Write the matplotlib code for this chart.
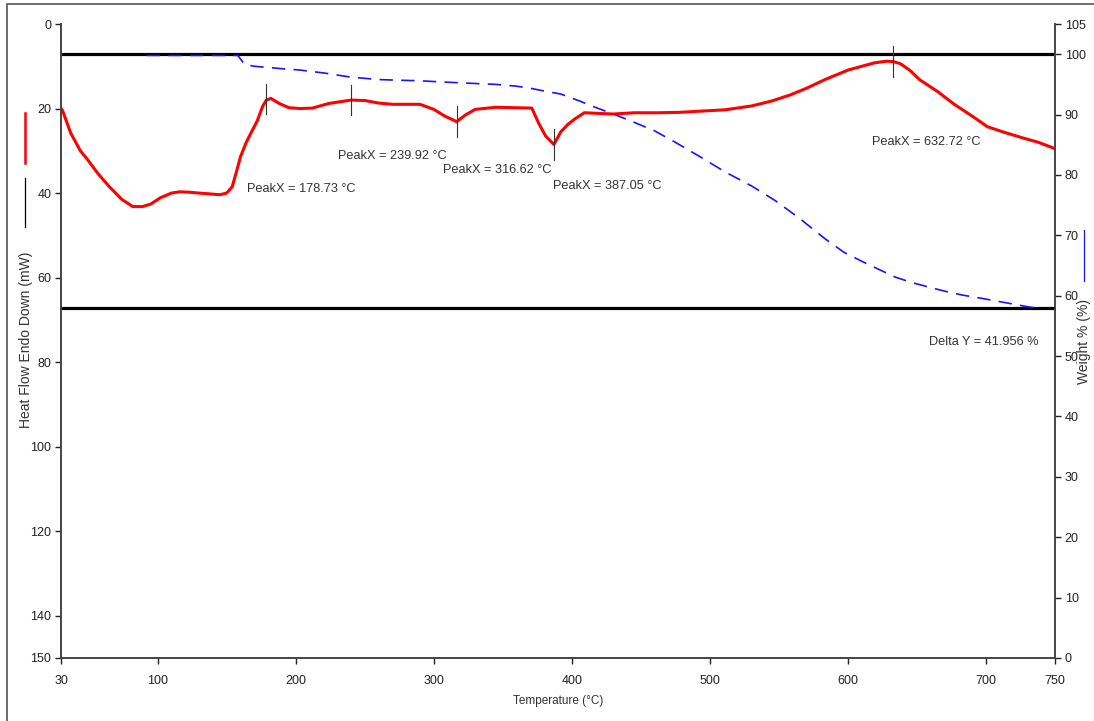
import matplotlib
matplotlib.use('Agg')
import matplotlib.pyplot as plt
from matplotlib.lines import Line2D
from matplotlib.patches import Rectangle

plt.rcParams['font.family'] = ['Liberation Sans', 'DejaVu Sans']

# heat flow (mW), left axis
temp_hf = [30, 31, 37, 44, 49, 57, 65, 74, 82, 89, 95, 102, 110, 116, 123, 130,
           138, 145, 150, 154, 157, 160, 164, 168, 172, 176, 178.7, 182, 188, 195,
           203, 212, 224, 240, 250, 260, 270, 290, 300, 308, 316.6, 323, 330, 345,
           371, 376, 381, 387, 392, 397, 402, 409, 430, 445, 462, 478, 494, 511,
           530, 545, 558, 570, 583, 600, 619, 628, 633, 638, 645, 652, 665, 677,
           690, 701, 712, 725, 738, 750]
heat_flow = [20, 20.4, 25.8, 30, 32, 35.5, 38.5, 41.5, 43.2, 43.2, 42.6, 41.1, 40.0,
             39.7, 39.8, 40, 40.2, 40.4, 40, 38.5, 35, 31.4, 28.1, 25.5, 23, 19.5,
             18, 17.6, 18.8, 19.8, 20, 19.9, 18.8, 18.0, 18.1, 18.7, 19.0, 19.0,
             20.2, 21.8, 23.1, 21.5, 20.2, 19.7, 19.9, 23.5, 26.5, 28.5, 25.5, 23.8,
             22.5, 21, 21.3, 21.0, 21.0, 20.9, 20.6, 20.3, 19.4, 18.2, 16.8, 15.2,
             13.2, 10.9, 9.2, 8.8, 8.9, 9.4, 11.0, 13.2, 16.0, 19.0, 21.8, 24.3,
             25.5, 26.8, 28.0, 29.5]

# weight (%), right axis
temp_w = [92, 158, 160, 163, 170, 180, 190, 202, 220, 240, 260, 273, 290, 306, 325,
          345, 360, 369, 380, 392, 405, 417, 431, 441, 460, 475, 493, 511, 530, 547,
          565, 583, 597, 610, 622, 634, 646, 659, 671, 683, 696, 708, 720, 732, 736]
weight = [99.8, 99.8, 99.2, 98.3, 98.0, 97.8, 97.6, 97.4, 96.9, 96.2, 95.8, 95.7,
          95.6, 95.4, 95.2, 95.0, 94.7, 94.4, 93.9, 93.4, 92.3, 91.2, 90.0, 89.1,
          87.3, 85.4, 83.0, 80.5, 78.2, 75.8, 72.8, 69.5, 67.2, 65.7, 64.4, 63.1,
          62.2, 61.4, 60.7, 60.1, 59.6, 59.1, 58.6, 58.1, 58.0]

peak_x = [178.73, 239.92, 316.62, 387.05, 632.72]
peak_y = [17.7, 18.0, 23.1, 28.5, 8.9]
peak_label_pos = [(165, 39), (230.5, 31.2), (307, 34.5), (386.5, 38.3), (617.5, 28)]

weight_start = 100.0
delta_y = 41.956

x_ticks = [30, 100, 200, 300, 400, 500, 600, 700, 750]
hf_ticks = [0, 20, 40, 60, 80, 100, 120, 140, 150]
w_ticks = [0, 10, 20, 30, 40, 50, 60, 70, 80, 90, 100, 105]

fig = plt.figure(figsize=(10.94, 7.21), dpi=100)
ax = fig.add_axes([0.0558, 0.0874, 0.9086, 0.8793])
ax2 = ax.twinx()

ax.set_xlim(30, 750)
ax.set_ylim(150, 0)
ax2.set_ylim(0, 105)

ax2.axhline(weight_start, color='black', lw=2.3, zorder=1)
ax2.axhline(weight_start - delta_y, color='black', lw=2.3, zorder=1)
ax2.plot(temp_w, weight, color='#1515ff', lw=1.2, dashes=(8, 5), zorder=3)

ax.plot(temp_hf, heat_flow, color='#ff0000', lw=2.2, zorder=2)
for px, py in zip(peak_x, peak_y):
    ax.plot([px, px], [py - 3.6, py + 3.6], color='#333333', lw=0.8)
for px, (lx, ly) in zip(peak_x, peak_label_pos):
    ax.text(lx, ly, 'PeakX = %.2f °C' % px, fontsize=9.2, color='#333333',
            va='center', ha='left')
ax.text(659, 75.2, 'Delta Y = %.3f %%' % delta_y, fontsize=9.2, color='#333333',
        va='center', ha='left')

ax.set_zorder(ax2.get_zorder() + 1)
ax.patch.set_visible(False)

ax.set_xticks(x_ticks)
ax.set_yticks(hf_ticks)
ax2.set_yticks(w_ticks)
for a in (ax, ax2):
    a.spines['top'].set_visible(False)
    for s in ('left', 'right', 'bottom'):
        a.spines[s].set_color('#444444')
        a.spines[s].set_linewidth(1.2)
    a.tick_params(labelsize=9, colors='#222222', length=4, width=1, pad=3)
ax.tick_params(axis='x', pad=8)

ax.set_xlabel('Temperature (°C)', fontsize=8.5, color='#333333', labelpad=6)

# axis titles with line keys, as in the instrument export
fig.text(0.0235, 0.528, 'Heat Flow Endo Down (mW)', rotation=90, fontsize=10,
         color='#333333', va='center', ha='center')
fig.add_artist(Line2D([0.0229, 0.0229], [1 - 113 / 721, 1 - 163 / 721],
                      color='#ff0000', lw=1.8, transform=fig.transFigure))
fig.add_artist(Line2D([0.0229, 0.0229], [1 - 178 / 721, 1 - 227 / 721],
                      color='black', lw=0.9, transform=fig.transFigure))
fig.text(0.9905, 0.527, 'Weight % (%)', rotation=90, fontsize=10,
         color='#333333', va='center', ha='center')
fig.add_artist(Line2D([0.9905, 0.9905], [1 - 230 / 721, 1 - 281 / 721],
                      color='#1515ff', lw=0.9, transform=fig.transFigure))

fig.add_artist(Rectangle((0.006, -0.01), 1.0, 1.004, fill=False, ec='#555555',
                         lw=1.2, transform=fig.transFigure))

fig.savefig('out.png', dpi=100)
